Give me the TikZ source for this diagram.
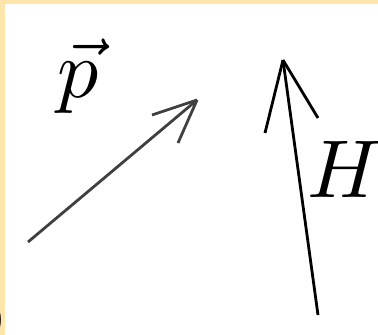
\documentclass[tikz,border=0pt]{standalone}
\begin{document}
\begin{tikzpicture}[x=1pt,y=-1pt,
  vec/.style={line width=2.8pt,black!75},
  lbl/.style={inner sep=0pt,scale=8.2}]
  \useasboundingbox (0,0) rectangle (378,335);
  \fill[white] (0,0) rectangle (378,335);
  \fill[yellow!40!orange!30] (0,0) rectangle (378,3.5);
  \fill[yellow!40!orange!30] (0,0) rectangle (5,335);
  \coordinate (p0) at (28,242);
  \coordinate (p1) at (197,100);
  \coordinate (h0) at (318,315);
  \coordinate (h1) at (283,60);
  \draw[vec] (p0) -- (p1);
  \draw[vec] (p1) -- (152,115);
  \draw[vec] (p1) -- (178,143);
  \draw[vec,black] (h0) -- (h1);
  \draw[vec,black] (h1) -- (265,133);
  \draw[vec,black] (h1) -- (318,118);
  \node[lbl,anchor=base west] (p) at (56,97) {$\vec p$};
  \node[lbl,anchor=base west] (H) at (306,197) {$H$};
  \node[lbl,anchor=base east,scale=0.5] (b) at (6,330) {)};
\end{tikzpicture}
\end{document}
